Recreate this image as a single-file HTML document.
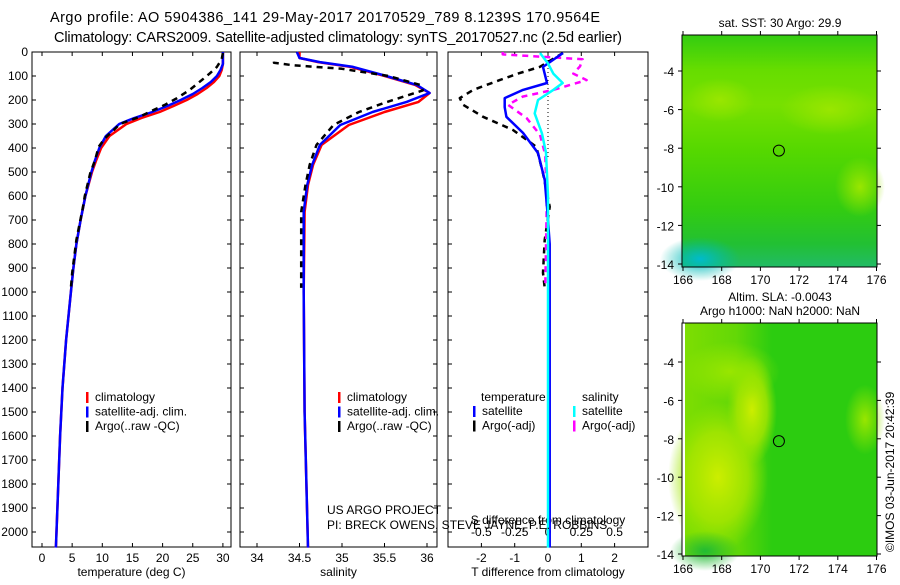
<!DOCTYPE html>
<html><head><meta charset="utf-8"><style>
html,body{margin:0;padding:0;background:#fff}
svg text{font-family:"Liberation Sans",sans-serif;fill:#000}
</style></head><body>
<svg id="c" width="900" height="580" xmlns="http://www.w3.org/2000/svg">
<defs>
<radialGradient id="yb1" cx="0.5" cy="0.5" r="0.5"><stop offset="0" stop-color="#ccee00"/><stop offset="0.6" stop-color="#aae600" stop-opacity="0.8"/><stop offset="1" stop-color="#99e600" stop-opacity="0"/></radialGradient>
<radialGradient id="yb2" cx="0.5" cy="0.5" r="0.5"><stop offset="0" stop-color="#99e600"/><stop offset="1" stop-color="#99e600" stop-opacity="0"/></radialGradient>
<radialGradient id="tl" cx="0.5" cy="0.5" r="0.5"><stop offset="0" stop-color="#00bbcc"/><stop offset="1" stop-color="#00bbaa" stop-opacity="0"/></radialGradient>
<radialGradient id="dg" cx="0.5" cy="0.5" r="0.5"><stop offset="0" stop-color="#22bb33"/><stop offset="1" stop-color="#22bb33" stop-opacity="0"/></radialGradient>
<linearGradient id="lft" x1="0" y1="0" x2="1" y2="0"><stop offset="0" stop-color="#88e000" stop-opacity="0.9"/><stop offset="0.6" stop-color="#88e000" stop-opacity="0.6"/><stop offset="1" stop-color="#88e000" stop-opacity="0"/></linearGradient>
<linearGradient id="sstg" x1="0" y1="0" x2="0" y2="1">
<stop offset="0" stop-color="#33cc11"/><stop offset="0.15" stop-color="#66dd00"/><stop offset="0.3" stop-color="#77e000"/><stop offset="0.5" stop-color="#55d800"/><stop offset="0.75" stop-color="#33cc11"/><stop offset="0.9" stop-color="#22c033"/><stop offset="1" stop-color="#22bb66"/></linearGradient>
</defs>
<text x="50" y="22" font-size="14.5" textLength="550">Argo profile: AO 5904386_141 29-May-2017 20170529_789 8.1239S 170.9564E</text>
<text x="54" y="42" font-size="14.5" textLength="568">Climatology: CARS2009. Satellite-adjusted climatology: synTS_20170527.nc (2.5d earlier)</text>
<g id="g"></g>
<text x="327" y="514" font-size="12">US ARGO PROJECT</text>
<text x="327" y="529" font-size="12">PI: BRECK OWENS, STEVE JAYNE, P.E. ROBBINS</text>
<text transform="translate(894,552) rotate(-90)" font-size="12">©IMOS 03-Jun-2017 20:42:39</text>
</svg>
<script>
// ---- data ----
const tDepth=[0,50,75,100,125,150,175,200,225,250,275,300,350,400,450,500,600,700,800,900,1000,1200,1400,1600,1800,2065];
const tClim=[30,30,29.8,29.4,28.5,27.3,25.8,24,21.8,19.5,16.5,14,11.2,9.8,9,8.3,7.2,6.4,5.7,5.2,4.8,4.0,3.4,3.0,2.7,2.3];
const tSat=[30,30,29.6,29.0,28.0,26.6,25.0,23.0,20.8,18.3,15.3,12.8,10.6,9.5,8.8,8.2,7.2,6.4,5.7,5.2,4.8,4.0,3.4,3.0,2.7,2.3];
const aDepth=[4,30,62,90,117,158,192,220,250,270,300,325,360,395,450,506,600,645,783,920,983];
const tArgo=[30.0,29.8,29.0,27.8,26.5,24.5,22.4,20.4,17.8,16.2,12.9,11.9,10.4,9.4,8.8,8.0,7.1,6.8,5.7,5.0,4.8];
const sDepth=[0,25,42,62,96,137,171,208,250,304,387,470,554,666,1000,1500,2065];
const sClim=[34.5,34.5,34.72,35.1,35.46,35.86,36.03,35.9,35.5,35.08,34.76,34.66,34.6,34.56,34.55,34.56,34.6];
const sSat=[34.47,34.5,34.74,35.13,35.48,35.88,36.03,35.76,35.36,34.98,34.74,34.65,34.59,34.55,34.55,34.56,34.6];
const sArgo=[34.2,34.2,34.42,35.0,35.55,35.92,35.95,35.53,35.2,34.9,34.7,34.62,34.57,34.52,34.52];
const sArgoDepth=[40,45,55,70,100,137,160,208,250,304,387,470,554,666,983];
const dDepth=[4,62,129,158,192,230,270,337,421,533,645,800,1000,1500,2065];
const dTSat=[0.45,-0.15,-0.03,-0.75,-1.3,-1.3,-1.25,-0.75,-0.3,-0.1,-0.03,0.05,0.05,0.05,0.05];
const dTArgoDepth=[4,62,90,117,158,192,220,270,325,395,506,645,783,920,983];
const dTArgo=[0.45,-0.25,-0.9,-1.45,-2.25,-2.65,-2.55,-1.95,-1.05,-0.35,-0.15,0.05,-0.1,-0.15,-0.1];
const dSDepth=[4,48,90,129,158,200,256,340,420,600,1000,2065];
const dSSat=[-0.06,0,0.04,0.11,0.04,-0.075,-0.1,-0.045,-0.015,0,0,0];
const dSArgoDepth=[0,10,30,60,90,117,158,186,220,276,345,428,645,978];
const dSArgo=[-0.34,-0.34,0.26,0.24,0.19,0.29,0.04,-0.19,-0.3,-0.16,-0.06,-0.02,-0.01,-0.02];
const depthTicks=[0,100,200,300,400,500,600,700,800,900,1000,1100,1200,1300,1400,1500,1600,1700,1800,1900,2000];
const tTicks=[0,5,10,15,20,25,30];
const sTicks=[34,34.5,35,35.5,36];
const dTTicks=[-2,-1,0,1,2];
const dSTicks=[-0.5,-0.25,0,0.25,0.5];
const latTicks=[-4,-6,-8,-10,-12,-14];
const lonTicks=[166,168,170,172,174,176];
const argoLon=170.9564, argoLat=-8.1239;
// ---- helpers ----
const NS='http://www.w3.org/2000/svg', G=document.getElementById('g');
function el(t,a,p){const e=document.createElementNS(NS,t);for(const k in a)e.setAttribute(k,a[k]);(p||G).appendChild(e);return e;}
const yD=d=>52+d*0.24;
const PB=547;
function frame(x0,x1,y0,y1,name){const r=el('rect',{x:x0,y:y0,width:x1-x0,height:y1-y0,fill:'none',stroke:'#000','stroke-width':1});

}
function line(xs,ys,xf,yf,color,w,dash,name){
 const pts=xs.map((v,i)=>xf(v).toFixed(1)+','+yf(ys[i]).toFixed(1)).join(' ');
 const p=el('polyline',{points:pts,fill:'none',stroke:color,'stroke-width':w,'stroke-linejoin':'round'});
 if(dash)p.setAttribute('stroke-dasharray',dash);
 
 }
function txt(x,y,s,sz,anchor,name){const t=el('text',{x:x,y:y,'font-size':sz});if(anchor)t.setAttribute('text-anchor',anchor);t.textContent=s;
 
 return t;}
function tick(x1,y1,x2,y2){el('line',{x1:x1,y1:y1,x2:x2,y2:y2,stroke:'#000','stroke-width':1});}
function profilePanel(x0,x1,xf,xt,xlab,name,yLabels){
 frame(x0,x1,52,PB,name+'-frame');
 depthTicks.forEach(d=>{const y=yD(d);tick(x0,y,x0+4,y);tick(x1,y,x1-4,y);
  if(yLabels)txt(x0-4,y+4,String(d),12,'end','depth-tick-label');});
 xt.forEach(v=>{const x=xf(v);tick(x,PB,x,PB-4);tick(x,52,x,56);
  txt(x,PB+15,String(v),12,'middle',name+'-x-tick-label');});
 if(xlab)txt((x0+x1)/2,PB+29,xlab,12,'middle',name+'-x-axis-title');}
function legend(x,y,items,name){items.forEach((it,i)=>{const yy=y+i*14.5;
 el('rect',{x:x,y:yy-9,width:2.5,height:11,fill:it[0]});
 txt(x+9,yy,it[1],12,null,name);});}
// ---- panel 1 temperature ----
const xT=v=>42+v*6.03;
profilePanel(32,231,xT,tTicks,'temperature (deg C)','temperature-panel',true);
line(tClim,tDepth,xT,yD,'#ff0000',2.5,null,'temperature-climatology-line');
line(tSat,tDepth,xT,yD,'#0000ff',2.5,null,'temperature-satellite-line');
line(tArgo,aDepth,xT,yD,'#000',2.5,'6,5','temperature-argo-line');
legend(86,401,[['#ff0000','climatology'],['#0000ff','satellite-adj. clim.'],['#000','Argo(..raw -QC)']],'temperature-legend-entry');
// ---- panel 2 salinity ----
const xS=v=>257+(v-34)*85;
profilePanel(240,437,xS,sTicks,'salinity','salinity-panel',false);
line(sClim,sDepth,xS,yD,'#ff0000',2.5,null,'salinity-climatology-line');
line(sSat,sDepth,xS,yD,'#0000ff',2.5,null,'salinity-satellite-line');
line(sArgo,sArgoDepth,xS,yD,'#000',2.5,'6,5','salinity-argo-line');
legend(338,401,[['#ff0000','climatology'],['#0000ff','satellite-adj. clim.'],['#000','Argo(..raw -QC)']],'salinity-legend-entry');
// ---- panel 3 differences ----
const xDT=v=>548+v*33.3, xDS=v=>548+v*133.2;
frame(448,648,52,PB,'difference-panel-frame');
depthTicks.forEach(d=>{const y=yD(d);tick(448,y,452,y);tick(648,y,644,y);});
dTTicks.forEach(v=>{const x=xDT(v);tick(x,PB,x,PB-4);tick(x,52,x,56);txt(x,PB+15,String(v),12,'middle','t-diff-tick-label');});
txt(548,PB+29,'T difference from climatology',12,'middle','t-diff-axis-title');
dSTicks.forEach(v=>{txt(xDS(v),536,String(v),12,'middle','s-diff-tick-label');});
txt(548,524,'S difference from climatology',12,'middle','s-diff-axis-title');
el('line',{x1:548,y1:52,x2:548,y2:160,stroke:'#000','stroke-width':1,'stroke-dasharray':'1,3'});
line(dTArgo,dTArgoDepth,xDT,yD,'#000',2.5,'6,5','t-diff-argo-line');
line(dSArgo,dSArgoDepth,xDS,yD,'#ff00ff',2.5,'6,5','s-diff-argo-line');
line(dTSat,dDepth,xDT,yD,'#0000ff',2.5,null,'t-diff-satellite-line');
line(dSSat,dSDepth,xDS,yD,'#00ffff',2.5,null,'s-diff-satellite-line');
txt(481,401,'temperature',12,null,'legend-heading-temperature');
txt(582,401,'salinity',12,null,'legend-heading-salinity');
legend(473,415,[['#0000ff','satellite'],['#000','Argo(-adj)']],'t-diff-legend-entry');
legend(573,415,[['#00ffff','satellite'],['#ff00ff','Argo(-adj)']],'s-diff-legend-entry');
// ---- maps ----
function map(y0,y1,latTop,yAt4,yAt14,title,bottom){
 const x0=682,x1=877;
 const xL=v=>683+(v-166)*19.35, yL=v=>yAt4+(-4-v)*(yAt14-yAt4)/10;
 const g=el('g',{});
 
 
 if(!bottom){
  el('rect',{x:x0,y:y0,width:x1-x0,height:y1-y0,fill:'url(#sstg)'},g);
  el('ellipse',{cx:830,cy:yL(-6),rx:50,ry:25,fill:'url(#yb2)'},g);
  el('ellipse',{cx:720,cy:yL(-5.5),rx:35,ry:22,fill:'url(#yb2)'},g);
  el('ellipse',{cx:860,cy:yL(-10),rx:25,ry:30,fill:'url(#yb2)'},g);
  el('ellipse',{cx:700,cy:y1-8,rx:40,ry:22,fill:'url(#tl)'},g);
 }else{
  el('rect',{x:x0,y:y0,width:x1-x0,height:y1-y0,fill:'#2ccc10'},g);
  el('rect',{x:x0,y:y0,width:90,height:y1-y0,fill:'url(#lft)'},g);
  el('ellipse',{cx:718,cy:yL(-10),rx:50,ry:75,fill:'url(#yb1)'},g);
  el('ellipse',{cx:752,cy:yL(-6.5),rx:25,ry:55,fill:'url(#yb1)'},g);
  el('ellipse',{cx:730,cy:yL(-4.5),rx:50,ry:30,fill:'url(#yb2)'},g);
  el('ellipse',{cx:865,cy:yL(-7),rx:20,ry:35,fill:'url(#yb2)'},g);
  el('ellipse',{cx:705,cy:y1-5,rx:35,ry:20,fill:'url(#dg)'},g);
  el('rect',{x:x0,y:y0,width:3,height:y1-y0,fill:'#fff'},g);
 }
 frame(x0,x1,y0,y1,bottom?'sla-map-frame':'sst-map-frame');
 latTicks.forEach(v=>{const y=yL(v);tick(x0,y,x0-4,y);tick(x1,y,x1+4,y);txt(x0-8,y+5,String(v),12,'end','latitude-tick-label');});
 lonTicks.forEach(v=>{const x=xL(v);tick(x,y1,x,y1+4);tick(x,y0,x,y0-4);txt(x,y1+17,String(v),12,'middle','longitude-tick-label');});
 const c=el('circle',{cx:xL(argoLon),cy:yL(argoLat),r:5.5,fill:'none',stroke:'#000','stroke-width':1});
 
 
 title.forEach((t,i)=>txt(780,y0-(title.length-i-1)*14-8,t,12,'middle','map-title'));
}
map(35,267,-2,71,264,['sat. SST: 30 Argo: 29.9'],false);
map(323,556,-2,362,554,['Altim. SLA: -0.0043','Argo h1000: NaN h2000: NaN'],true);
</script>
</body></html>
